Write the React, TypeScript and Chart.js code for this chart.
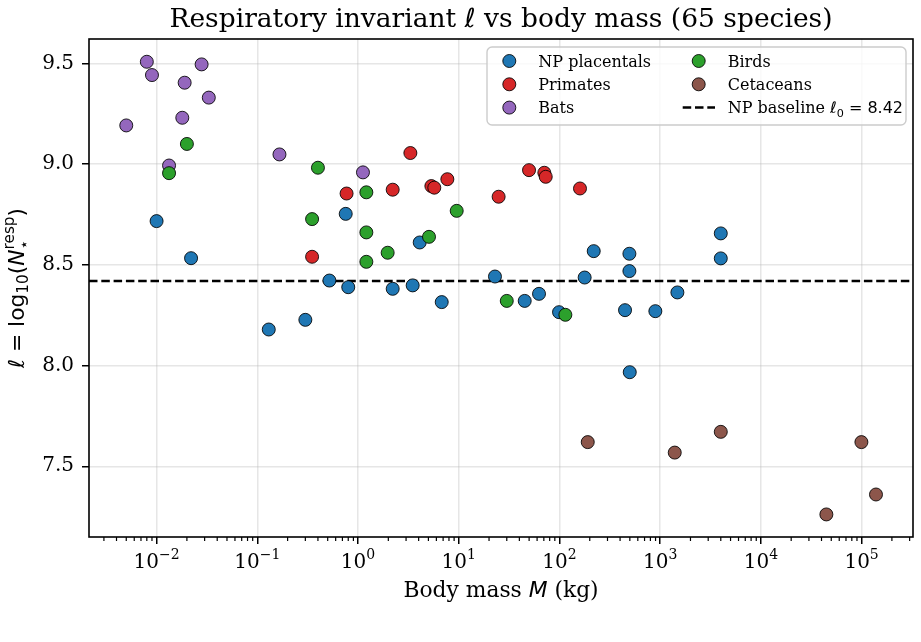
import React, { useEffect, useRef } from "react";
import { Chart, registerables } from "chart.js";

Chart.register(...registerables);

// ---------------- data ----------------
const X_MIN = 0.002133;
const X_MAX = 324000;
const Y_MIN = 7.149;
const Y_MAX = 9.621;
const BASELINE = 8.42;

const xMajorTicks = [1e-2, 1e-1, 1e0, 1e1, 1e2, 1e3, 1e4, 1e5];
const xTickExponents = ["−2", "−1", "0", "1", "2", "3", "4", "5"];
const yTicks = [7.5, 8.0, 8.5, 9.0, 9.5];

const seriesNames = ["NP placentals", "Primates", "Bats", "Birds", "Cetaceans"];
const seriesColors = ["#1f77b4", "#d62728", "#9467bd", "#2ca02c", "#8c564b"];

const npMass = [0.01, 0.022, 0.13, 0.3, 0.52, 0.755, 0.8, 2.21, 3.49, 4.1, 6.78, 22.9, 45.2, 62.7, 99.1, 178, 219, 448, 495, 495, 499, 896, 1483, 4000, 4000];
const npEll = [8.717, 8.533, 8.179, 8.227, 8.422, 8.753, 8.389, 8.381, 8.398, 8.611, 8.315, 8.442, 8.321, 8.356, 8.265, 8.437, 8.568, 8.275, 8.555, 8.469, 7.967, 8.27, 8.363, 8.656, 8.532];

const primMass = [0.35, 0.77, 2.21, 3.31, 5.35, 5.72, 7.71, 24.9, 49.9, 70.8, 73.1, 160];
const primEll = [8.54, 8.854, 8.873, 9.055, 8.891, 8.883, 8.925, 8.838, 8.97, 8.957, 8.937, 8.879];

const batMass = [0.005, 0.008, 0.009, 0.0133, 0.018, 0.019, 0.028, 0.033, 0.166, 1.12];
const batEll = [9.192, 9.508, 9.442, 8.993, 9.23, 9.404, 9.495, 9.33, 9.048, 8.959];

const birdMass = [0.0133, 0.02, 0.35, 0.4, 1.21, 1.21, 1.21, 1.97, 5.07, 9.55, 30, 114.5];
const birdEll = [8.955, 9.1, 8.727, 8.982, 8.86, 8.661, 8.515, 8.56, 8.639, 8.768, 8.321, 8.252];

const cetMass = [191, 1396, 4000, 44700, 99600, 139000];
const cetEll = [7.62, 7.568, 7.671, 7.261, 7.62, 7.36];

const seriesMass = [npMass, primMass, batMass, birdMass, cetMass];
const seriesEll = [npEll, primEll, batEll, birdEll, cetEll];

// ---------------- styling ----------------
const SERIF = '"DejaVu Serif", serif';
const SANS = '"DejaVu Sans", sans-serif';
const POINT_R = 6.5;
const TITLE_SIZE = 26.5;
const LABEL_SIZE = 21.8;
const LFONT = 16;

type Piece = { t: string; font: string; dy?: number; advance?: boolean };

function drawRich(ctx: CanvasRenderingContext2D, pieces: Piece[], x: number, y: number, align: "center" | "left") {
  ctx.textAlign = "left";
  ctx.textBaseline = "alphabetic";
  const widths = pieces.map((p) => {
    ctx.font = p.font;
    return ctx.measureText(p.t).width;
  });
  let total = 0;
  pieces.forEach((p, i) => {
    if (p.advance !== false) total += widths[i];
  });
  let cx = align === "center" ? x - total / 2 : x;
  pieces.forEach((p, i) => {
    ctx.font = p.font;
    ctx.fillText(p.t, cx, y + (p.dy || 0));
    if (p.advance !== false) cx += widths[i];
  });
}

const decorPlugin = {
  id: "decor",
  afterDraw(chart: any) {
    const ctx: CanvasRenderingContext2D = chart.ctx;
    const area = chart.chartArea;
    const xs = chart.scales.x;
    ctx.save();
    ctx.fillStyle = "#000";
    ctx.strokeStyle = "#000";

    // frame
    ctx.lineWidth = 1.6;
    ctx.strokeRect(area.left, area.top, area.right - area.left, area.bottom - area.top);

    // minor ticks on x
    ctx.lineWidth = 1.2;
    for (let k = -3; k <= 5; k++) {
      for (let m = 2; m <= 9; m++) {
        const v = m * Math.pow(10, k);
        if (v <= X_MIN || v >= X_MAX) continue;
        const px = xs.getPixelForValue(v);
        ctx.beginPath();
        ctx.moveTo(px, area.bottom);
        ctx.lineTo(px, area.bottom + 4);
        ctx.stroke();
      }
    }

    // x tick labels 10^k
    xMajorTicks.forEach((v, i) => {
      const px = xs.getPixelForValue(v);
      drawRich(
        ctx,
        [
          { t: "10", font: `20px ${SERIF}` },
          { t: xTickExponents[i], font: `14px ${SERIF}`, dy: -8.5 },
        ],
        px,
        567.5,
        "center"
      );
    });

    const cxArea = (area.left + area.right) / 2;
    // title
    drawRich(
      ctx,
      [
        { t: "Respiratory invariant ", font: `${TITLE_SIZE}px ${SERIF}` },
        { t: "ℓ", font: `italic ${TITLE_SIZE}px ${SANS}` },
        { t: " vs body mass (65 species)", font: `${TITLE_SIZE}px ${SERIF}` },
      ],
      cxArea,
      27,
      "center"
    );

    // x label
    drawRich(
      ctx,
      [
        { t: "Body mass ", font: `${LABEL_SIZE}px ${SERIF}` },
        { t: "M", font: `italic ${LABEL_SIZE}px ${SANS}` },
        { t: " (kg)", font: `${LABEL_SIZE}px ${SERIF}` },
      ],
      cxArea,
      597,
      "center"
    );

    // y label (rotated)
    const sub = LABEL_SIZE * 0.7;
    ctx.save();
    ctx.translate(23.5, (area.top + area.bottom) / 2);
    ctx.rotate(-Math.PI / 2);
    drawRich(
      ctx,
      [
        { t: "ℓ", font: `italic ${LABEL_SIZE}px ${SANS}` },
        { t: " = ", font: `${LABEL_SIZE}px ${SANS}` },
        { t: "log", font: `${LABEL_SIZE}px ${SANS}` },
        { t: "10", font: `${sub}px ${SANS}`, dy: 4.5 },
        { t: "(", font: `${LABEL_SIZE}px ${SANS}` },
        { t: "N", font: `italic ${LABEL_SIZE}px ${SANS}` },
        { t: "⋆", font: `${sub}px ${SANS}`, dy: 5.5, advance: false },
        { t: "resp", font: `${sub}px ${SANS}`, dy: -10 },
        { t: ")", font: `${LABEL_SIZE}px ${SANS}` },
      ],
      0,
      0,
      "center"
    );
    ctx.restore();

    // legend
    const lx = 487, ly = 47, lw = 419, lh = 78, r = 5;
    ctx.beginPath();
    ctx.moveTo(lx + r, ly);
    ctx.arcTo(lx + lw, ly, lx + lw, ly + lh, r);
    ctx.arcTo(lx + lw, ly + lh, lx, ly + lh, r);
    ctx.arcTo(lx, ly + lh, lx, ly, r);
    ctx.arcTo(lx, ly, lx + lw, ly, r);
    ctx.closePath();
    ctx.fillStyle = "rgba(255,255,255,0.8)";
    ctx.fill();
    ctx.strokeStyle = "#cccccc";
    ctx.lineWidth = 1.4;
    ctx.stroke();

    const rowY = [61, 84.3, 107.6];
    const colMarkX = [509.3, 698.7];
    const colTextX = [538.3, 727.7];
    const entries = seriesNames.map((n, i) => ({ name: n, color: seriesColors[i] }));
    entries.forEach((e, i) => {
      const col = i < 3 ? 0 : 1;
      const row = i < 3 ? i : i - 3;
      const cy = rowY[row];
      ctx.beginPath();
      ctx.arc(colMarkX[col], cy, POINT_R, 0, Math.PI * 2);
      ctx.fillStyle = e.color;
      ctx.fill();
      ctx.strokeStyle = "rgba(0,0,0,0.85)";
      ctx.lineWidth = 1;
      ctx.stroke();
      ctx.fillStyle = "#000";
      drawRich(ctx, [{ t: e.name, font: `${LFONT}px ${SERIF}` }], colTextX[col], cy + 5.6, "left");
    });
    // baseline legend entry
    const by = rowY[2];
    ctx.save();
    ctx.strokeStyle = "#000";
    ctx.lineWidth = 2.5;
    ctx.setLineDash([8.5, 3.8]);
    ctx.beginPath();
    ctx.moveTo(682.7, by);
    ctx.lineTo(715, by);
    ctx.stroke();
    ctx.restore();
    ctx.fillStyle = "#000";
    drawRich(
      ctx,
      [
        { t: "NP baseline ", font: `${LFONT}px ${SERIF}` },
        { t: "ℓ", font: `italic ${LFONT}px ${SANS}` },
        { t: "0", font: `${LFONT * 0.7}px ${SANS}`, dy: 3.5 },
        { t: " = 8.42", font: `${LFONT}px ${SANS}` },
      ],
      colTextX[1],
      by + 5.6,
      "left"
    );

    ctx.restore();
  },
};

export default function App() {
  const canvasRef = useRef<HTMLCanvasElement | null>(null);

  useEffect(() => {
    document.body.style.margin = "0";
    const canvas = canvasRef.current;
    if (!canvas) return;

    const scatterSets = seriesNames.map((name, i) => ({
      type: "scatter" as const,
      label: name,
      data: seriesMass[i].map((m, j) => ({ x: m, y: seriesEll[i][j] })),
      backgroundColor: seriesColors[i],
      borderColor: "rgba(0,0,0,0.85)",
      borderWidth: 1,
      pointRadius: POINT_R,
      pointHoverRadius: POINT_R,
      order: 5 - i,
    }));

    const baselineSet = {
      type: "line" as const,
      label: "NP baseline",
      data: [
        { x: X_MIN, y: BASELINE },
        { x: X_MAX, y: BASELINE },
      ],
      borderColor: "#000",
      borderWidth: 2.5,
      borderDash: [8.5, 3.8],
      pointRadius: 0,
      fill: false,
      showLine: true,
      order: 10,
    };

    const chart = new Chart(canvas, {
      type: "scatter",
      data: { datasets: [...scatterSets, baselineSet] as any },
      options: {
        responsive: false,
        animation: false,
        devicePixelRatio: 1,
        events: [],
        layout: { padding: { left: 0, right: 8, top: 39, bottom: 0 } },
        plugins: {
          legend: { display: false },
          title: { display: false },
          tooltip: { enabled: false },
        },
        scales: {
          x: {
            type: "logarithmic",
            min: X_MIN,
            max: X_MAX,
            afterBuildTicks: (scale: any) => {
              scale.ticks = xMajorTicks.map((v) => ({ value: v }));
            },
            afterFit: (scale: any) => {
              scale.height = 105;
            },
            ticks: { display: false },
            grid: {
              color: "rgba(176,176,176,0.32)",
              lineWidth: 1.5,
              drawTicks: true,
              tickLength: 7,
              tickColor: "#000",
              tickWidth: 1.5,
            },
            border: { display: false },
          },
          y: {
            type: "linear",
            min: Y_MIN,
            max: Y_MAX,
            afterBuildTicks: (scale: any) => {
              scale.ticks = yTicks.map((v) => ({ value: v }));
            },
            afterFit: (scale: any) => {
              scale.width = 89;
            },
            ticks: {
              color: "#000",
              padding: 8,
              font: { family: "DejaVu Serif", size: 20 },
              callback: (v: any) => Number(v).toFixed(1),
            },
            grid: {
              color: "rgba(176,176,176,0.32)",
              lineWidth: 1.5,
              drawTicks: true,
              tickLength: 7,
              tickColor: "#000",
              tickWidth: 1.5,
            },
            border: { display: false },
          },
        },
      },
      plugins: [decorPlugin],
    });

    return () => chart.destroy();
  }, []);

  return (
    <div style={{ width: 921, height: 642, background: "#fff" }}>
      <canvas ref={canvasRef} width={921} height={642} style={{ display: "block" }} />
    </div>
  );
}
